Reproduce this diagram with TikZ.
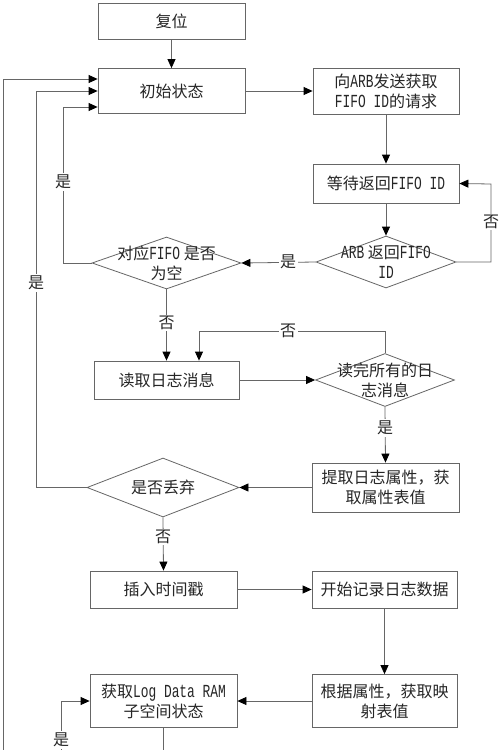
\documentclass[tikz,border=0pt]{standalone}
\usepackage{fontspec}
\setmainfont{Noto Sans CJK SC}
\newfontfamily\lat{Liberation Mono}[Scale=1.15, FakeStretch=0.7]
\usetikzlibrary{arrows.meta,shapes.geometric}
\begin{document}
\begin{tikzpicture}[x=1pt,y=-1pt,
  txt/.style={font=\fontsize{16}{20}\selectfont, text=black!85},
  box/.style={txt, draw=black!60, line width=0.8pt, rectangle, inner sep=0pt, align=center},
  dia/.style={draw=black!60, line width=0.8pt, diamond, inner sep=0pt},
  dtext/.style={txt, align=center, inner sep=0pt},
  ln/.style={draw=black!60, line width=0.8pt},
  arr/.style={ln, -{Triangle[length=9pt,width=8pt,fill=black,color=black]}},
  lab/.style={txt, fill=white, inner sep=1.5pt}]
\useasboundingbox[fill=white] (0,0) rectangle (500,750);

% boxes
\node[box, minimum width=147pt, minimum height=36pt] (reset) at (171.5,21) {复位};
\node[box, minimum width=147pt, minimum height=45pt] (init) at (171.5,91) {初始状态};
\node[box, minimum width=146pt, minimum height=46pt] (req) at (386,91) {向{\lat ARB}发送获取\\{\lat FIFO ID}的请求};
\node[box, minimum width=146pt, minimum height=39pt] (wait) at (386,183.5) {等待返回{\lat FIFO ID}};
\node[dia, minimum width=140pt, minimum height=52pt] (arb) at (386,262) {};
\node[dtext] (arbt) at (386,262) {{\lat ARB} 返回{\lat FIFO}\\{\lat ID}};
\node[dia, minimum width=149pt, minimum height=52pt] (fifo) at (166.5,263) {};
\node[dtext] (fifot) at (166.5,263) {对应{\lat FIFO} 是否\\为空};
\node[box, minimum width=145pt, minimum height=38pt] (read) at (166.5,380) {读取日志消息};
\node[dia, minimum width=139pt, minimum height=53pt] (done) at (385,380) {};
\node[dtext] (donet) at (385,380) {读完所有的日\\志消息};
\node[box, minimum width=147pt, minimum height=49pt] (extract) at (385.5,487.5) {提取日志属性，获\\取属性表值};
\node[dia, minimum width=152pt, minimum height=59pt] (drop) at (163,487.5) {};
\node[dtext] (dropt) at (163,487.5) {是否丢弃};
\node[box, minimum width=147pt, minimum height=37pt] (stamp) at (163.5,589.5) {插入时间戳};
\node[box, minimum width=145pt, minimum height=37pt] (record) at (384.5,589.5) {开始记录日志数据};
\node[box, minimum width=145pt, minimum height=53pt] (map) at (384.5,701) {根据属性，获取映\\射表值};
\node[box, minimum width=147pt, minimum height=53pt] (ram) at (163.5,701) {获取{\lat Log Data RAM}\\子空间状态};

% helper coordinates
\coordinate (c3) at (3,79);
\coordinate (c3b) at (3,760);
\coordinate (c36) at (36,91);
\coordinate (c63) at (63,107);
\coordinate (c491) at (491,184);
\coordinate (c199) at (199,331);
\coordinate (c61) at (61,701);
\coordinate (c61b) at (61,760);
\coordinate (cbot) at (163.5,760);

% connectors
\draw[arr] (reset) -- (init);
\draw[arr] (init.east) -- (req.west);
\draw[arr] (req) -- (wait);
\draw[arr] (wait) -- (arb);
\draw[arr] (arb.east) -| (c491) -- (wait.east);
\draw[arr] (arb.west) -- (fifo.east);
\draw[arr] (fifo.west) -| (c63) -- (init.west |- c63);
\draw[arr] (fifo.south) -- (read.north);
\draw[arr] (read.east) -- (done.west);
\draw[arr] (done.north) |- (c199) -- (c199 |- read.north);
\draw[arr] (done.south) -- (extract.north);
\draw[arr] (extract.west) -- (drop.east);
\draw[arr] (drop.west) -| (c36) -- (init.west);
\draw[arr] (c3b) -- (c3) -- (init.west |- c3);
\draw[arr] (drop.south) -- (stamp.north);
\draw[arr] (stamp.east) -- (record.west);
\draw[arr] (record.south) -- (map.north);
\draw[arr] (map.west) -- (ram.east);
\draw[arr] (c61b) -- (c61) -- (ram.west);
\draw[ln] (ram.south) -- (cbot);

% labels
\node[lab] (l1) at (491,222) {否};
\node[lab] (l2) at (288,262) {是};
\node[lab] (l3) at (63,182) {是};
\node[lab] (l4) at (36,283) {是};
\node[lab] (l5) at (166.5,323) {否};
\node[lab] (l6) at (288,331) {否};
\node[lab] (l7) at (385,428) {是};
\node[lab] (l8) at (163,537) {否};
\node[lab] (l9) at (61,740) {是};
\end{tikzpicture}
\end{document}
